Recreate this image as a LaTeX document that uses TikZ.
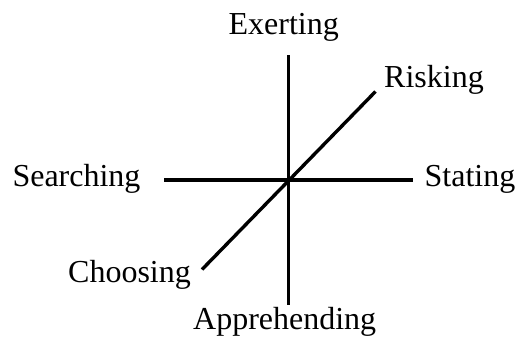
\documentclass[tikz,border=0pt]{standalone}
\usepackage{fontspec}
\setmainfont{Liberation Serif}
\begin{document}
\begin{tikzpicture}[x=1pt,y=-1pt,
  axis/.style={line width=3.4pt},
  lbl/.style={font=\fontsize{32}{36}\selectfont, inner sep=0pt, anchor=base}]
\useasboundingbox (0,0) rectangle (522,341);
\coordinate (vt) at (288.5,55);
\coordinate (vb) at (288.5,305);
\coordinate (hl) at (164,180);
\coordinate (hr) at (412.5,180);
\coordinate (dl) at (202,269.5);
\coordinate (dr) at (375.5,91.5);
\draw[axis] (vt) -- (vb);
\draw[axis] (hl) -- (hr);
\draw[axis] (dl) -- (dr);
\node[lbl] (ex) at (283.7,34) {Exerting};
\node[lbl] (ri) at (434,87.3) {Risking};
\node[lbl] (se) at (76.5,186.5) {Searching};
\node[lbl] (st) at (470,186) {Stating};
\node[lbl] (ch) at (129.5,282.7) {Choosing};
\node[lbl] (ap) at (284.7,329.3) {Apprehending};
\end{tikzpicture}
\end{document}
